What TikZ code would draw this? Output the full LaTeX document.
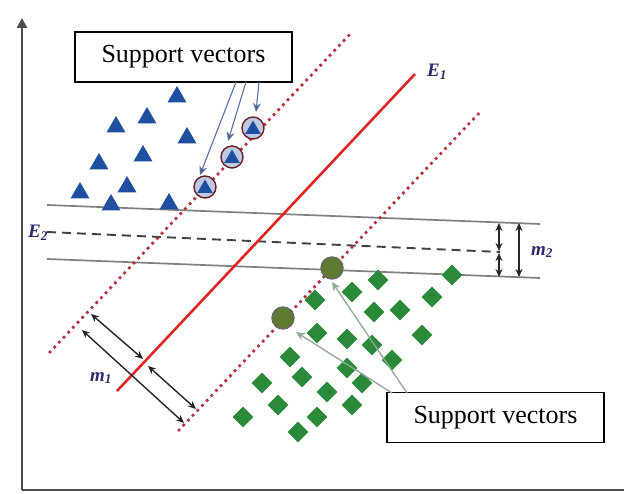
\documentclass[tikz,border=0pt]{standalone}
\usepackage{fontspec}
\setmainfont{Liberation Serif}
\usetikzlibrary{shapes.geometric,arrows.meta}
\definecolor{dotred}{HTML}{B8303C}
\definecolor{solidred}{HTML}{E02525}
\definecolor{triblue}{HTML}{1F4FA0}
\definecolor{dgreen}{HTML}{2A8A3A}
\definecolor{navy}{HTML}{2B2B6B}
\definecolor{svgreen}{HTML}{5E7A30}
\definecolor{ptrblue}{HTML}{5A70A0}
\definecolor{ptrgreen}{HTML}{90AA90}
\tikzset{
  axis/.style={draw=black!70, line width=2.4pt},
  dotline/.style={draw=dotred, line width=3.8pt, line cap=round, dash pattern=on 0pt off 6.8pt},
  sep/.style={draw=solidred, line width=2.6pt},
  thin line/.style={draw=black!50, line width=1.7pt},
  dashline/.style={draw=black!75, line width=1.9pt, dash pattern=on 9pt off 6pt},
  tri/.style={regular polygon, regular polygon sides=3, fill=triblue, minimum size=22pt, inner sep=0pt},
  dia/.style={diamond, fill=dgreen, minimum size=21pt, inner sep=0pt},
  svring/.style={circle, draw=dotred!60!black, line width=1.4pt, minimum size=22pt, inner sep=0pt},
  labelbox/.style={draw=black, line width=1.5pt, fill=white, minimum width=217pt, minimum height=50pt, font=\fontsize{26}{30}\selectfont},
  lbl/.style={text=navy, font=\fontsize{19}{20}\selectfont\bfseries\itshape},
  dim/.style={draw=black!85, line width=1.4pt, {Stealth[length=8pt,width=7pt]}-{Stealth[length=8pt,width=7pt]}},
  ptrb/.style={draw=ptrblue, line width=1.1pt, -{Stealth[length=9pt,width=8pt,fill=triblue]}},
  ptrg/.style={draw=ptrgreen, line width=1.3pt, -{Stealth[length=9pt,width=8pt,fill=dgreen!80]}},
}
\begin{document}
\begin{tikzpicture}[x=1pt,y=-1pt]
\useasboundingbox[fill=white] (0,0) rectangle (624,494);

% axes
\coordinate (O) at (22,490);
\coordinate (ytop) at (22,18);
\coordinate (xend) at (624,490);
\draw[axis, -{Triangle[length=10pt,width=10pt]}] (O) -- (ytop);
\draw[axis] (O) -- (xend);

% horizontal separator lines
\coordinate (h1a) at (47,205); \coordinate (h1b) at (540,224);
\coordinate (h2a) at (47,232); \coordinate (h2b) at (500,252);
\coordinate (h3a) at (47,259); \coordinate (h3b) at (540,278);
\draw[thin line] (h1a) -- (h1b);
\draw[dashline] (h2a) -- (h2b);
\draw[thin line] (h3a) -- (h3b);

% diagonal lines
\coordinate (ua) at (50,352); \coordinate (ub) at (352,32);
\coordinate (sa) at (117,391); \coordinate (sb) at (415,74);
\coordinate (la) at (179,430); \coordinate (lb) at (481,111);
\draw[dotline] (ua) -- (ub);
\draw[dotline] (la) -- (lb);
\draw[sep] (sa) -- (sb);

% blue triangles
\foreach \x/\y [count=\i] in {177/97,116/127,147/118,187/138,99/164,143/156,80/193,127/187,111/205,169/204}
  \node[tri] (t\i) at (\x,\y) {};
% support-vector triangles
\node[svring, fill=triblue!30] (sv1) at (253,128) {};
\node[tri, minimum size=18pt] (sv1t) at (253,129.5) {};
\node[svring, fill=triblue!30] (sv2) at (232,157) {};
\node[tri, minimum size=18pt] (sv2t) at (232,158.5) {};
\node[svring, fill=triblue!30] (sv3) at (205,187) {};
\node[tri, minimum size=18pt] (sv3t) at (205,188.5) {};

% green diamonds
\foreach \x/\y [count=\i] in {378/280,452/275,352/292,432/297,315/300,374/312,400/310,317/333,347/339,372/345,422/335,290/357,392/360,347/368,302/377,362/383,262/383,327/392,278/405,352/405,243/417,317/417,298/432}
  \node[dia] (d\i) at (\x,\y) {};
% support-vector diamonds
\node[svring, fill=svgreen, draw=black!60] (sg1) at (332,268) {};
\node[svring, fill=svgreen, draw=black!60] (sg2) at (283,318) {};

% labels
\node[lbl] (E1) at (437,72) {E\textsubscript{1}};
\node[lbl] (E2) at (38,233) {E\textsubscript{2}};
\node[lbl] (m1) at (101,378) {m\textsubscript{1}};
\node[lbl] (m2) at (542,252) {m\textsubscript{2}};

% margin m2
\coordinate (r1) at (499,223); \coordinate (r2) at (499,251);
\coordinate (r3) at (499,253); \coordinate (r4) at (499,277);
\coordinate (r5) at (519,223); \coordinate (r6) at (519,277);
\draw[dim] (r1) -- (r2);
\draw[dim] (r3) -- (r4);
\draw[dim] (r5) -- (r6);

% margin m1
\coordinate (p1) at (82,330); \coordinate (p2) at (184,423);
\coordinate (p3) at (91,314); \coordinate (p4) at (143,359);
\coordinate (p5) at (148,366); \coordinate (p6) at (196,409);
\draw[dim] (p1) -- (p2);
\draw[dim] (p3) -- (p4);
\draw[dim] (p5) -- (p6);

% text boxes
\node[labelbox] (topbox) at (183.5,57) {Support vectors};
\node[labelbox] (botbox) at (495.5,417.5) {Support vectors};

% pointers from top box
\coordinate (b1) at (259,82); \coordinate (b2) at (246,82); \coordinate (b3) at (236,82);
\coordinate (e1) at (256,112); \coordinate (e2) at (228,141); \coordinate (e3) at (200,175);
\draw[ptrb] (b1) -- (e1);
\draw[ptrb] (b2) -- (e2);
\draw[ptrb] (b3) -- (e3);

% pointers from bottom box
\coordinate (g1) at (407,393); \coordinate (g2) at (392,393);
\coordinate (f1) at (332,282); \coordinate (f2) at (296,332);
\draw[ptrg] (g1) -- (f1);
\draw[ptrg] (g2) -- (f2);
\end{tikzpicture}
\end{document}
